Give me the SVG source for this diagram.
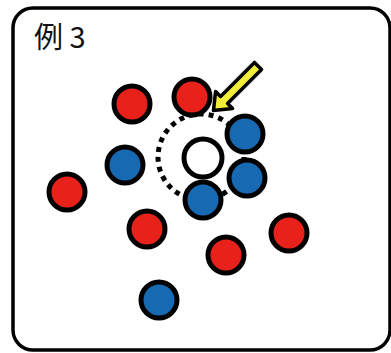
<svg xmlns="http://www.w3.org/2000/svg" width="391" height="353" viewBox="0 0 391 353">
<style>
.frame{fill:#fff;stroke:#000;stroke-width:3.5}
.dot{stroke:#000;stroke-width:5}
.red{fill:#e8221b}
.blue{fill:#1769b1}
.white{fill:#fff}
.title{font-family:"Noto Sans CJK JP","Noto Sans",sans-serif;font-size:29px;fill:#111}
</style>
<rect class="frame" x="13" y="8" width="377" height="342" rx="20"/>
<text class="title" x="34" y="48">例 3</text>
<g id="connectors">
<circle cx="201" cy="157" r="43" fill="none" stroke="#000" stroke-width="5" stroke-dasharray="5 5"/>
</g>
<g id="n-white"><circle class="dot white" cx="203" cy="158" r="19"/></g>
<g id="n-r1"><circle class="dot red" cx="132" cy="104" r="18"/></g>
<g id="n-r2"><circle class="dot red" cx="192" cy="97" r="18"/></g>
<g id="n-b1"><circle class="dot blue" cx="125" cy="165" r="18"/></g>
<g id="n-b2"><circle class="dot blue" cx="245" cy="134" r="18"/></g>
<g id="n-b3"><circle class="dot blue" cx="247" cy="178" r="18"/></g>
<g id="n-b4"><circle class="dot blue" cx="203" cy="200" r="18"/></g>
<g id="n-r3"><circle class="dot red" cx="67" cy="192" r="18"/></g>
<g id="n-r4"><circle class="dot red" cx="147" cy="229" r="18"/></g>
<g id="n-r5"><circle class="dot red" cx="226" cy="255" r="18"/></g>
<g id="n-r6"><circle class="dot red" cx="289" cy="233" r="18"/></g>
<g id="n-b5"><circle class="dot blue" cx="159" cy="300" r="18"/></g>
<g id="arrow"><polygon transform="translate(258,66) rotate(135)" points="0,-5 48,-5 48,-12 63,0 48,12 48,5 0,5" fill="#f1ee3a" stroke="#000" stroke-width="3.5" stroke-linejoin="round"/></g>
</svg>
